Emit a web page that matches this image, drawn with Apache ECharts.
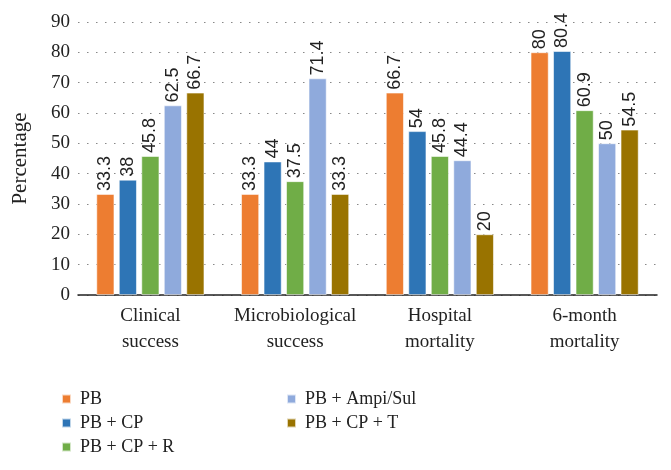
<!DOCTYPE html>
<html><head><meta charset="utf-8">
<script src="https://cdn.jsdelivr.net/npm/echarts@6/dist/echarts.min.js"></script>
<style>html,body{margin:0;padding:0;background:#fff}#c{width:671px;height:470px}</style>
</head><body><div id="c"></div>
<script>
var categories = ["Clinical\nsuccess", "Microbiological\nsuccess", "Hospital\nmortality", "6-month\nmortality"];
var seriesNames = ["PB", "PB + CP", "PB + CP + R", "PB + Ampi/Sul", "PB + CP + T"];
var pb = [33.3, 33.3, 66.7, 80];
var pbCp = [38, 44, 54, 80.4];
var pbCpR = [45.8, 37.5, 45.8, 60.9];
var pbAmpiSul = [62.5, 71.4, 44.4, 50];
var pbCpT = [66.7, 33.3, 20, 54.5];
var yTicks = [0, 10, 20, 30, 40, 50, 60, 70, 80, 90];
var colors = ["#ED7D31", "#2E75B6", "#70AD47", "#8FAADC", "#997300"];
var values = [pb, pbCp, pbCpR, pbAmpiSul, pbCpT];
var serif = "Liberation Serif";
var chart = echarts.init(document.getElementById('c'));
var legendBase = {orient: 'vertical', top: 385, height: 90, itemWidth: 9, itemHeight: 9, itemGap: 6,
  icon: 'rect', textStyle: {fontFamily: serif, fontSize: 18, color: '#222', padding: [0, 0, 0, 4]}};
chart.setOption({
  animation: false,
  color: colors,
  grid: {left: 78, right: 14, top: 22, bottom: 175, containLabel: false},
  legend: [
    Object.assign({}, legendBase, {data: seriesNames.slice(0, 3), left: 56}),
    Object.assign({}, legendBase, {data: seriesNames.slice(3), left: 281})
  ],
  xAxis: {
    type: 'category', data: categories,
    axisLine: {lineStyle: {color: '#222', width: 1.5}},
    axisTick: {show: false},
    axisLabel: {interval: 0, fontFamily: serif, fontSize: 19, color: '#222', lineHeight: 26, margin: 8}
  },
  yAxis: {
    type: 'value', min: 0, max: 90, interval: 10,
    name: 'Percentage', nameLocation: 'middle', nameGap: 47, nameRotate: 90,
    nameTextStyle: {fontFamily: serif, fontSize: 21, color: '#222'},
    axisLine: {show: false}, axisTick: {show: false},
    axisLabel: {fontFamily: serif, fontSize: 19, color: '#222', margin: 8,
      formatter: function (v) { return yTicks.indexOf(v) >= 0 ? String(v) : ''; }},
    splitLine: {lineStyle: {color: '#888', type: [1.5, 7.5], width: 1.2}}
  },
  series: values.map(function (d, i) {
    return {
      name: seriesNames[i], type: 'bar', data: d, barWidth: 18, barGap: '25%',
      itemStyle: {color: colors[i], borderColor: 'rgba(255,255,255,0.7)', borderWidth: 0.8},
      label: {show: true, position: 'top', rotate: 90, align: 'left', verticalAlign: 'middle', distance: 3,
        fontFamily: 'Liberation Sans', fontSize: 18, color: '#222'}
    };
  })
});
</script></body></html>
